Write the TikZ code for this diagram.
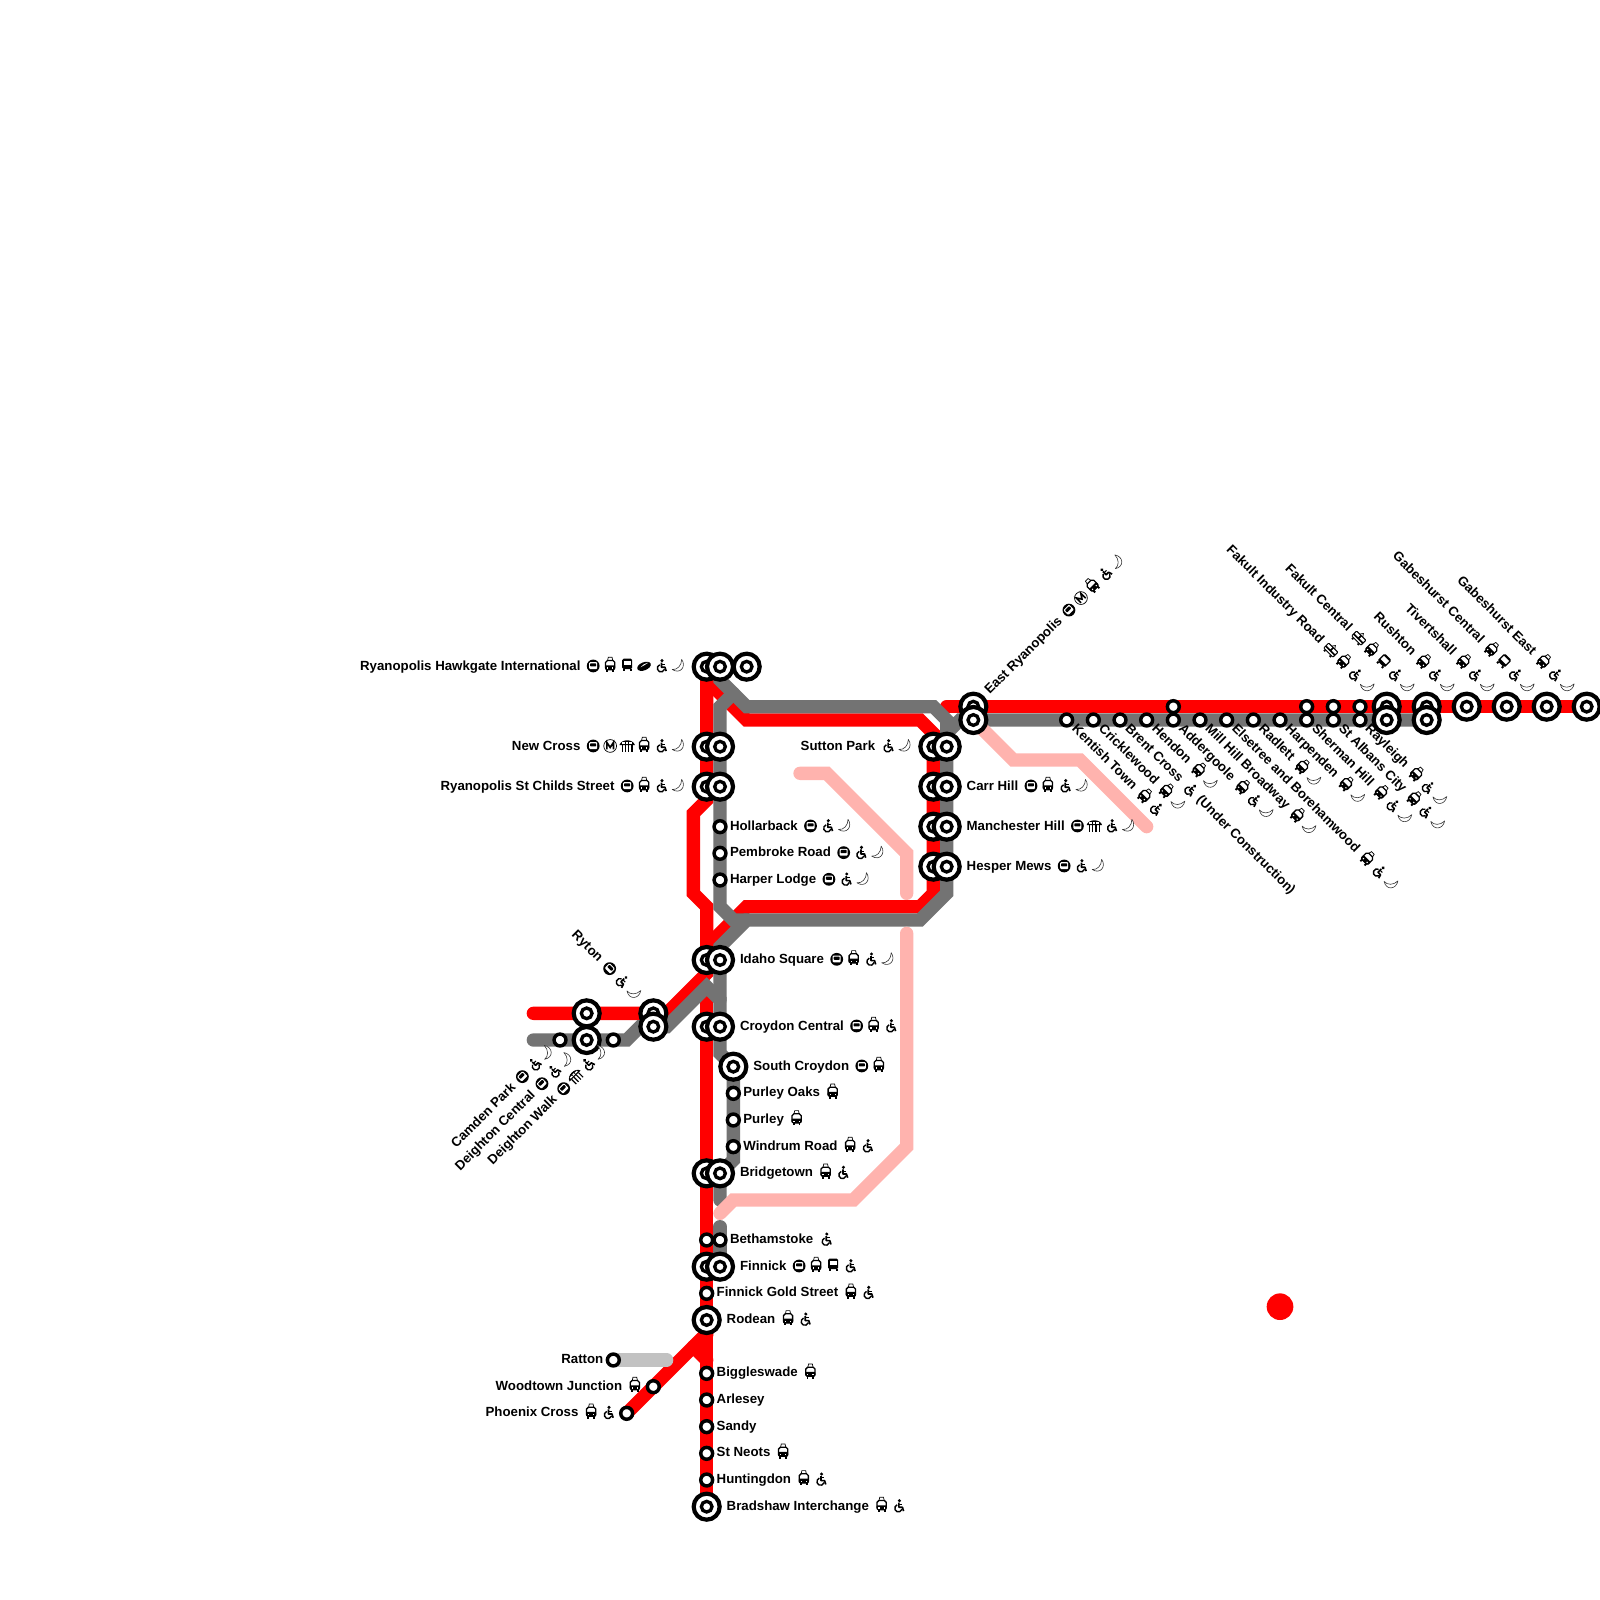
\documentclass[tikz,border=0pt]{standalone}
\usepackage{fontspec}
\setmainfont{Liberation Sans}
\usetikzlibrary{calc,backgrounds}
\definecolor{lred}{HTML}{FF0000}
\definecolor{lgrey}{HTML}{737373}
\definecolor{lpink}{HTML}{FFB3AE}
\definecolor{lsilver}{HTML}{C2C2C2}
\tikzset{
 bigst/.style={circle,draw=black,fill=white,line width=0.063cm,minimum size=0.39cm,inner sep=0pt,outer sep=0pt},
 bigin/.style={circle,draw=black,fill=white,line width=0.05cm,minimum size=0.16cm,inner sep=0pt,outer sep=0pt},
 smst/.style={circle,draw=black,fill=white,line width=0.052cm,minimum size=0.178cm,inner sep=0pt,outer sep=0pt},
 reddot/.style={circle,fill=lred,minimum size=0.4cm,inner sep=0pt,outer sep=0pt},
 lbl/.style={font=\fontsize{5.66pt}{7pt}\selectfont\bfseries,inner sep=0pt,outer sep=0pt},
 route/.style={line width=0.2cm,line cap=round,line join=miter},
 redline/.style={route,draw=lred},
 greyline/.style={route,draw=lgrey},
 pinkline/.style={route,draw=lpink},
 silverline/.style={route,draw=lsilver},
 icscale/.style={x=0.015cm,y=0.015cm},
 ictube/.pic={
  \fill (0,0.7) circle (6.4);
  \fill[white,rounded corners=0.4pt] (-4,-2.4) rectangle (4,4.5);
  \fill[rounded corners=0.3pt] (-3,0.2) rectangle (3,3.4);
 },
 icmetro/.pic={
  \draw[line width=0.3pt] (0,0.7) circle (6.4);
  \draw[line width=0.7pt,line join=miter] (-3.3,-2.8)--(-3.3,4.2)--(0,-0.8)--(3.3,4.2)--(3.3,-2.8);
 },
 icmono/.pic={
  \fill (-7.8,1.5) .. controls (-6,8) and (6,8) .. (7.8,1.5) -- cycle;
  \fill[white] (-5,2.8) rectangle (-2,4.3);
  \fill[white] (-1,2.8) rectangle (1,4.6);
  \fill[white] (2,2.8) rectangle (5,4.3);
  \draw[line width=0.5pt] (-4.8,1.5)--(-4.8,-5) (-1.6,1.5)--(-1.6,-5) (1.6,1.5)--(1.6,-5) (4.8,1.5)--(4.8,-5);
 },
 ictram/.pic={
  \draw[line width=0.3pt] (-2.6,6)--(-1.9,9.4)--(1.9,9.4)--(2.6,6);
  \fill[white] (-4.3,-3) rectangle (4.3,6);
  \fill[rounded corners=0.4pt] (-5,-3.2) rectangle (5,1.4);
  \draw[line width=0.55pt,rounded corners=0.8pt] (-4.6,-3) rectangle (4.6,6.2);
  \fill (-3.9,-3) rectangle (-2,-5.4);
  \fill (2,-3) rectangle (3.9,-5.4);
  \fill[white] (-3.2,-1.9) rectangle (-2,-0.8);
  \fill[white] (2,-1.9) rectangle (3.2,-0.8);
 },
 icrail/.pic={
  \draw[line width=0.3pt] (-2,4.2)--(0,7)--(2,4.2);
  \fill[rounded corners=0.5pt] (-7,-3.5) rectangle (7,4.5);
  \fill[white] (-5.8,0.8) rectangle (-1,3.3);
  \fill[white] (1,0.8) rectangle (5.8,3.3);
  \fill[white] (-5.8,-2.4) rectangle (5.8,-1.2);
  \fill (-5,-3.5) rectangle (-3,-5);
  \fill (3,-3.5) rectangle (5,-5);
 },
 icbus/.pic={
  \fill[rounded corners=0.6pt] (-5,-2.4) rectangle (5,8);
  \fill[white] (-3.6,1.2) rectangle (3.6,5.8);
  \fill (-4.4,-2.4) rectangle (-2.4,-4.4);
  \fill (2.4,-2.4) rectangle (4.4,-4.4);
 },
 icplane/.pic={
  \begin{scope}[rotate=22]
   \fill (0,0.4) ellipse [x radius=7.2,y radius=4];
   \fill[white] (-3.6,0.8) .. controls (-1,2.4) and (2,2.9) .. (5.5,2.2) .. controls (2,1.4) and (-1,1) .. cycle;
  \end{scope}
 },
 icwc/.pic={
  \fill (0.8,6) circle (1.7);
  \draw[line width=0.7pt,line join=round] (0.3,4) -- (0.3,-0.6) -- (3.8,-0.6) -- (5,-4.4);
  \draw[line width=0.45pt] (0.3,2.2)--(3.6,2.2);
  \draw[line width=0.6pt] (-1.4,1.9) arc[start angle=110,end angle=345,radius=3.7];
 },
 icmoon/.pic={
  \draw[draw=black!80,fill=white,line width=0.25pt,line join=round] (3.5,7.3) .. controls (8.5,0) and (2,-8) .. (-6,-2.8) .. controls (-1,-3.4) and (3.5,1) .. cycle;
 }
}
\newcommand\bigstn[3]{\node[bigst] (#1) at (#2,#3) {}; \node[bigin] (#1i) at (#1.center) {};}
\newcommand\smstn[3]{\node[smst] (#1) at (#2,#3) {};}
\newcommand\labicons[4]{% name, rot, n, icons
 \ifnum#3>0
  \foreach \ic [count=\kk from 0] in {#4} {
   \pgfmathsetmacro\dk{(12.7+17*\kk)*0.015}
   \edef\tmpic{\noexpand\pic[rotate=#2,icscale] at ($(#1.base east)+(#2:\dk cm)+({#2+90}:0.05cm)$) {ic\ic};}
   \tmpic
  }
 \fi}
\newcommand\labL[7]{% name, station, rot, dist, text, n, icons
 \pgfmathsetmacro\gapw{#6>0 ? 4.2 : 0}
 \pgfmathsetmacro\ddst{(#4+17*#6+\gapw)*0.015}
 \path (#2.center) ++({#3+180}:\ddst cm) ++({#3-90}:0.05cm) node[lbl,rotate=#3,anchor=base east] (#1) {#5};
 \labicons{#1}{#3}{#6}{#7}}
\newcommand\labR[7]{%
 \pgfmathsetmacro\ddst{#4*0.015}
 \path (#2.center) ++(#3:\ddst cm) ++({#3-90}:0.05cm) node[lbl,rotate=#3,anchor=base west] (#1) {#5};
 \labicons{#1}{#3}{#6}{#7}}
\begin{document}
\begin{tikzpicture}[x=0.2cm,y=-0.2cm]
\useasboundingbox (0,0) rectangle (120,120);
% stations, red line first
\bigstn{sHawkR}{53}{50}
\bigstn{sHawkG}{54}{50}
\bigstn{sHawkX}{56}{50}
\bigstn{sNewR}{53}{56}
\bigstn{sNewG}{54}{56}
\bigstn{sChildR}{53}{59}
\bigstn{sChildG}{54}{59}
\smstn{sHollar}{54}{62}
\smstn{sPemb}{54}{64}
\smstn{sHarper}{54}{66}
\bigstn{sSuttonR}{70}{56}
\bigstn{sSuttonG}{71}{56}
\bigstn{sCarrR}{70}{59}
\bigstn{sCarrG}{71}{59}
\bigstn{sManR}{70}{62}
\bigstn{sManG}{71}{62}
\bigstn{sHespR}{70}{65}
\bigstn{sHespG}{71}{65}
\bigstn{sIdahoR}{53}{72}
\bigstn{sIdahoG}{54}{72}
\bigstn{sCroyR}{53}{77}
\bigstn{sCroyG}{54}{77}
\bigstn{sSCroy}{55}{80}
\smstn{sPOaks}{55}{82}
\smstn{sPurley}{55}{84}
\smstn{sWindrum}{55}{86}
\bigstn{sBridgeR}{53}{88}
\bigstn{sBridgeG}{54}{88}
\smstn{sBethR}{53}{93}
\smstn{sBethG}{54}{93}
\bigstn{sFinnR}{53}{95}
\bigstn{sFinnG}{54}{95}
\smstn{sGold}{53}{97}
\bigstn{sRodean}{53}{99}
\smstn{sBiggle}{53}{103}
\smstn{sArlesey}{53}{105}
\smstn{sSandy}{53}{107}
\smstn{sNeots}{53}{109}
\smstn{sHunt}{53}{111}
\bigstn{sBrad}{53}{113}
\smstn{sRatton}{46}{102}
\smstn{sWood}{49}{104}
\smstn{sPhoenix}{47}{106}
\bigstn{sDeighR}{44}{76}
\bigstn{sDeighG}{44}{78}
\smstn{sCamden}{42}{78}
\smstn{sWalk}{46}{78}
\bigstn{sRytonR}{49}{76}
\bigstn{sRytonG}{49}{77}
\bigstn{sEastR}{73}{53}
\bigstn{sEastG}{73}{54}
\smstn{sKent}{80}{54}
\smstn{sCrick}{82}{54}
\smstn{sBrent}{84}{54}
\smstn{sHendon}{86}{54}
\smstn{sAdderR}{88}{53}
\smstn{sAdderG}{88}{54}
\smstn{sMill}{90}{54}
\smstn{sElse}{92}{54}
\smstn{sRad}{94}{54}
\smstn{sHarp}{96}{54}
\smstn{sShermR}{98}{53}
\smstn{sShermG}{98}{54}
\smstn{sAlbR}{100}{53}
\smstn{sAlbG}{100}{54}
\smstn{sRayR}{102}{53}
\smstn{sRayG}{102}{54}
\bigstn{sFakIR}{104}{53}
\bigstn{sFakIG}{104}{54}
\bigstn{sFakCR}{107}{53}
\bigstn{sFakCG}{107}{54}
\bigstn{sRush}{110}{53}
\bigstn{sTiv}{113}{53}
\bigstn{sGabC}{116}{53}
\bigstn{sGabE}{119}{53}
\node[reddot] (dot) at (96,98) {};
% horizontal labels
\labL{lHawk}{sHawkR}{0}{20}{Ryanopolis Hawkgate International}{6}{tube,tram,bus,plane,wc,moon}
\labL{lNew}{sNewR}{0}{20}{New Cross}{6}{tube,metro,mono,tram,wc,moon}
\labL{lChild}{sChildR}{0}{20}{Ryanopolis St Childs Street}{4}{tube,tram,wc,moon}
\labL{lSutton}{sSuttonR}{0}{20}{Sutton Park}{2}{wc,moon}
\labR{lCarr}{sCarrG}{0}{20}{Carr Hill}{4}{tube,tram,wc,moon}
\labR{lMan}{sManG}{0}{20}{Manchester Hill}{4}{tube,mono,wc,moon}
\labR{lHesp}{sHespG}{0}{20}{Hesper Mews}{3}{tube,wc,moon}
\labR{lHollar}{sHollar}{0}{10}{Hollarback}{3}{tube,wc,moon}
\labR{lPemb}{sPemb}{0}{10}{Pembroke Road}{3}{tube,wc,moon}
\labR{lHarper}{sHarper}{0}{10}{Harper Lodge}{3}{tube,wc,moon}
\labR{lIdaho}{sIdahoG}{0}{20}{Idaho Square}{4}{tube,tram,wc,moon}
\labR{lCroy}{sCroyG}{0}{20}{Croydon Central}{3}{tube,tram,wc}
\labR{lSCroy}{sSCroy}{0}{20}{South Croydon}{2}{tube,tram}
\labR{lPOaks}{sPOaks}{0}{10}{Purley Oaks}{1}{tram}
\labR{lPurley}{sPurley}{0}{10}{Purley}{1}{tram}
\labR{lWindrum}{sWindrum}{0}{10}{Windrum Road}{2}{tram,wc}
\labR{lBridge}{sBridgeG}{0}{20}{Bridgetown}{2}{tram,wc}
\labR{lBeth}{sBethG}{0}{10}{Bethamstoke}{1}{wc}
\labR{lFinn}{sFinnG}{0}{20}{Finnick}{4}{tube,tram,bus,wc}
\labR{lGold}{sGold}{0}{10}{Finnick Gold Street}{2}{tram,wc}
\labR{lRodean}{sRodean}{0}{20}{Rodean}{2}{tram,wc}
\labR{lBiggle}{sBiggle}{0}{10}{Biggleswade}{1}{tram}
\labR{lArlesey}{sArlesey}{0}{10}{Arlesey}{0}{}
\labR{lSandy}{sSandy}{0}{10}{Sandy}{0}{}
\labR{lNeots}{sNeots}{0}{10}{St Neots}{1}{tram}
\labR{lHunt}{sHunt}{0}{10}{Huntingdon}{2}{tram,wc}
\labR{lBrad}{sBrad}{0}{20}{Bradshaw Interchange}{2}{tram,wc}
\labL{lRatton}{sRatton}{0}{10}{Ratton}{0}{}
\labL{lWood}{sWood}{0}{10}{Woodtown Junction}{1}{tram}
\labL{lPhoenix}{sPhoenix}{0}{10}{Phoenix Cross}{2}{tram,wc}
% slanted labels
\labL{lCamden}{sCamden}{45}{10}{Camden Park}{3}{tube,wc,moon}
\labL{lDeigh}{sDeighG}{45}{20}{Deighton Central}{3}{tube,wc,moon}
\labL{lWalk}{sWalk}{45}{10}{Deighton Walk}{4}{tube,mono,wc,moon}
\labL{lRyton}{sRytonR}{-45}{20}{Ryton}{3}{tube,wc,moon}
\labR{lEast}{sEastR}{45}{20}{East Ryanopolis}{5}{tube,metro,tram,wc,moon}
\labR{lKent}{sKent}{-45}{10}{Kentish Town}{2}{tram,wc}
\labR{lCrick}{sCrick}{-45}{10}{Cricklewood}{2}{tram,moon}
\labR{lBrent}{sBrent}{-45}{10}{Brent Cross}{1}{wc}
\labR{lHendon}{sHendon}{-45}{10}{Hendon}{2}{tram,moon}
\labR{lAdder}{sAdderG}{-45}{10}{Addergoole}{3}{tram,wc,moon}
\labR{lMill}{sMill}{-45}{10}{Mill Hill Broadway}{2}{tram,moon}
\labR{lElse}{sElse}{-45}{10}{Elsetree and Borehamwood}{3}{tram,wc,moon}
\labR{lRad}{sRad}{-45}{10}{Radlett}{2}{tram,moon}
\labR{lHarp}{sHarp}{-45}{10}{Harpenden}{2}{tram,moon}
\labR{lSherm}{sShermG}{-45}{10}{Sherman Hill}{3}{tram,wc,moon}
\labR{lAlb}{sAlbG}{-45}{10}{St Albans City}{3}{tram,wc,moon}
\labR{lRay}{sRayG}{-45}{10}{Rayleigh}{3}{tram,wc,moon}
\path (lBrent.base east) ++(-45:0.375cm) node[lbl,rotate=-45,anchor=base west] (lBrentUC) {(Under Construction)};
\labL{lFakI}{sFakIR}{-45}{20}{Fakult Industry Road}{4}{rail,tram,wc,moon}
\labL{lFakC}{sFakCR}{-45}{20}{Fakult Central}{5}{rail,tram,bus,wc,moon}
\labL{lRush}{sRush}{-45}{20}{Rushton}{3}{tram,wc,moon}
\labL{lTiv}{sTiv}{-45}{20}{Tivertshall}{3}{tram,wc,moon}
\labL{lGabC}{sGabC}{-45}{20}{Gabeshurst Central}{4}{tram,bus,wc,moon}
\labL{lGabE}{sGabE}{-45}{20}{Gabeshurst East}{3}{tram,wc,moon}
% route bends
\foreach \nm/\xx/\yy in {
 ra/53/51,rb/56/54,rc/69/54,rd/70/55,re/70/67,rf/69/68,rg/56/68,rh/53/71,ri/53/73,rj/50/76,rk/40/76,
 rl/53/60,rm/52/61,rn/52/67,ro/53/68,rp/53/75,rq/53/100,rr/53/102,rs/52/101,rt/71/53,
 ga/54/51,gb/56/53,gc/70/53,gcc/71/54,gd/71/55,ge/72/54,gf/71/67,gg/69/69,gh/56/69,gi/54/71,
 gj/55/52,gk/54/53,gl/54/68,gm/55/69,gn/40/78,go/47/78,gp/48/77,gq/50/77,gr/53/74,gs/54/75,gt/54/79,gu/55/80,gv/55/87,gw/54/88,gx/54/90,gy/54/92,
 sa/50/102,
 pa/76/57,pb/81/57,pc/86/62,pd/60/58,pe/62/58,pf/68/64,pg/68/67,ph/68/70,pi/68/86,pj/64/90,pk/55/90,pl/54/91}
 {\coordinate (\nm) at (\xx,\yy);}
\begin{scope}[on background layer]
\fill[white] (0,0) rectangle (120,120);
\draw[redline] (sHawkR.center) -- (ra) -- (rb) -- (rc) -- (rd) -- (re) -- (rf) -- (rg) -- (rh) -- (ri) -- (rj) -- (rk);
\draw[redline] (sHawkR.center) -- (rl) -- (rm) -- (rn) -- (ro) -- (sIdahoR.center);
\draw[redline] (rp) -- (sBrad.center);
\draw[redline] (rr) -- (rs);
\draw[redline] (sRodean.center) -- (rq) -- (sPhoenix.center);
\draw[redline] (rt) -- (sGabE.center);
\draw[greyline] (sHawkG.center) -- (ga) -- (gb) -- (gc) -- (gcc) -- (gd) -- (ge) -- (sFakCG.center);
\draw[greyline] (gd) -- (gf) -- (gg) -- (gh) -- (gi) -- (sIdahoG.center) -- (gs);
\draw[greyline] (gj) -- (gk) -- (gl) -- (gm) -- (gh);
\draw[greyline] (gn) -- (go) -- (gp) -- (gq) -- (gr) -- (gs) -- (gt) -- (gu) -- (gv) -- (gw) -- (gx);
\draw[greyline] (gy) -- (sFinnG.center);
\draw[silverline] (sRatton.center) -- (sa);
\draw[pinkline] (sEastG.center) -- (pa) -- (pb) -- (pc);
\draw[pinkline] (pd) -- (pe) -- (pf) -- (pg);
\draw[pinkline] (ph) -- (pi) -- (pj) -- (pk) -- (pl);
\end{scope}
\end{tikzpicture}
\end{document}
